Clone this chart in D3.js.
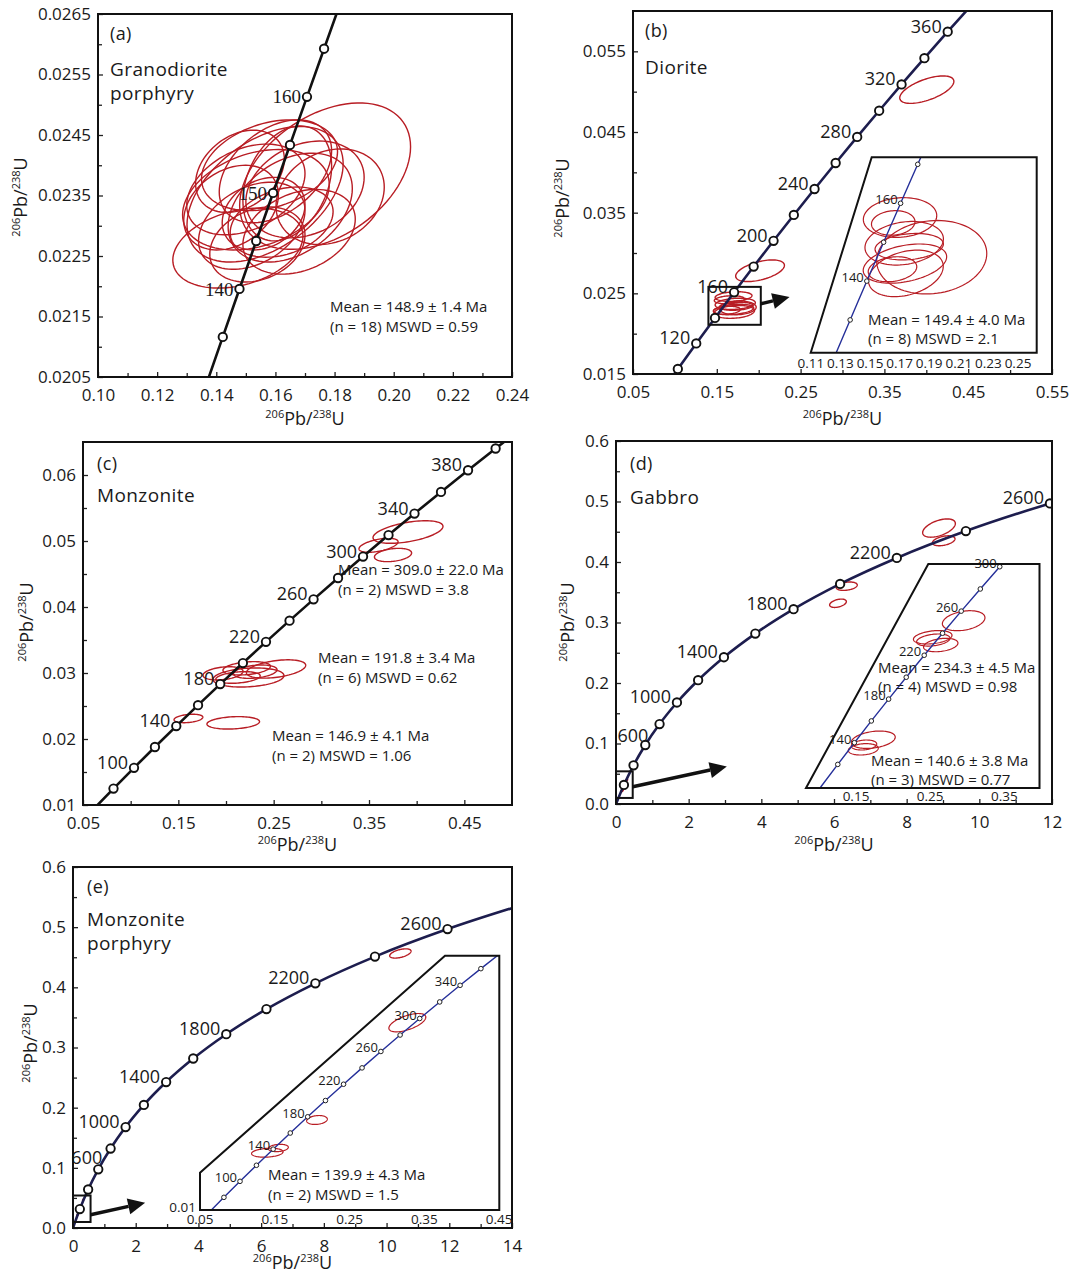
<!DOCTYPE html>
<html>
<head>
<meta charset="utf-8">
<script src="https://cdnjs.cloudflare.com/ajax/libs/d3/7.8.5/d3.min.js"></script>
<style>
  body { margin: 0; background: #fff; }
  svg text { font-family: "Open Sans", "Noto Sans", sans-serif; fill: #1a1a1a; }
</style>
</head>
<body>
<svg id="fig" width="1071" height="1275"></svg>
<script>
// ---------- values ----------
// concordia points: age (Ma), x ratio, 206Pb/238U
var fineAges = [120, 130, 135, 140, 145, 150, 155, 160, 165, 170, 180];
var fineX = [0.12545, 0.13659, 0.14220, 0.14784, 0.15350, 0.15920, 0.16492, 0.17067, 0.17645, 0.18226, 0.19396];
var fineY = [0.018789, 0.020371, 0.021163, 0.021955, 0.022748, 0.023542, 0.024335, 0.025131, 0.025926, 0.026722, 0.028316];

var midAges = [60, 80, 100, 120, 140, 160, 180, 200, 220, 240, 260, 280, 300, 320, 340, 360, 380, 400, 420];
var midX = [0.06087, 0.08198, 0.10350, 0.12545, 0.14784, 0.17067, 0.19396, 0.21771, 0.24193, 0.26664, 0.29183, 0.31753, 0.34374, 0.37047, 0.39773, 0.42553, 0.45389, 0.48281, 0.51231];
var midY = [0.009351, 0.012487, 0.015633, 0.018789, 0.021955, 0.025131, 0.028316, 0.031511, 0.034717, 0.037932, 0.041157, 0.044392, 0.047637, 0.050893, 0.054158, 0.057434, 0.060719, 0.064016, 0.067322];

var longAges = [0, 200, 400, 600, 800, 1000, 1200, 1400, 1600, 1800, 2000, 2200, 2400, 2600, 2800];
var longX = [0, 0.2177, 0.4828, 0.8057, 1.1987, 1.6774, 2.2603, 2.9701, 3.8344, 4.8869, 6.1685, 7.7291, 9.6295, 11.9437, 14.7617];
var longY = [0, 0.0315, 0.0640, 0.0975, 0.1321, 0.1678, 0.2046, 0.2426, 0.2817, 0.3221, 0.3638, 0.4067, 0.4511, 0.4968, 0.5440];

// marked / labelled ages
var aMarks = [135, 140, 145, 150, 155, 160, 165];
var aLabels = [140, 150, 160];
var bMarks = [100, 120, 140, 160, 180, 200, 220, 240, 260, 280, 300, 320, 340, 360];
var bLabels = [120, 160, 200, 240, 280, 320, 360];
var bInMarks = [130, 140, 150, 160, 170];
var bInLabels = [140, 160];
var cMarks = [80, 100, 120, 140, 160, 180, 200, 220, 240, 260, 280, 300, 320, 340, 360, 380, 400];
var cLabels = [100, 140, 180, 220, 260, 300, 340, 380];
var dMarks = [200, 400, 600, 800, 1000, 1200, 1400, 1600, 1800, 2000, 2200, 2400, 2600];
var dLabels = [600, 1000, 1400, 1800, 2200, 2600];
var dInMarks = [120, 140, 160, 180, 200, 220, 240, 260, 280, 300];
var dInLabels = [140, 180, 220, 260, 300];
var eMarks = [200, 400, 600, 800, 1000, 1200, 1400, 1600, 1800, 2000, 2200, 2400, 2600];
var eLabels = [600, 1000, 1400, 1800, 2200, 2600];
var eInMarks = [80, 100, 120, 140, 160, 180, 200, 220, 240, 260, 280, 300, 320, 340, 360];
var eInLabels = [100, 140, 180, 220, 260, 300, 340];

// error ellipses: [x, y, half width x, half width y, rho]
var aEllipses = [
  [0.1768, 0.02382, 0.0289, 0.00121, 0.40],
  [0.1785, 0.02348, 0.0183, 0.00079, 0.20],
  [0.1565, 0.02352, 0.0264, 0.00112, 0.45],
  [0.1534, 0.02343, 0.0248, 0.00083, 0.30],
  [0.1473, 0.02263, 0.0220, 0.00066, 0.30],
  [0.1539, 0.02269, 0.0161, 0.00062, 0.25],
  [0.1621, 0.02306, 0.0174, 0.00058, 0.30],
  [0.1500, 0.02360, 0.0200, 0.00075, 0.35],
  [0.1600, 0.02390, 0.0190, 0.00085, 0.40],
  [0.1650, 0.02330, 0.0210, 0.00090, 0.35],
  [0.1450, 0.02330, 0.0160, 0.00070, 0.30],
  [0.1580, 0.02400, 0.0230, 0.00075, 0.30],
  [0.1700, 0.02360, 0.0200, 0.00080, 0.25],
  [0.1520, 0.02300, 0.0180, 0.00072, 0.35],
  [0.1640, 0.02370, 0.0150, 0.00095, 0.30],
  [0.1480, 0.02390, 0.0150, 0.00068, 0.30],
  [0.1680, 0.02290, 0.0190, 0.00070, 0.30],
  [0.1560, 0.02320, 0.0140, 0.00060, 0.25]
];
var bEllipses = [
  [0.4006, 0.05025, 0.0323, 0.00170, 0.60],
  [0.2016, 0.02780, 0.0291, 0.00134, 0.50],
  [0.1700, 0.02460, 0.0220, 0.00060, 0.20],
  [0.1650, 0.02420, 0.0180, 0.00050, 0.20],
  [0.1720, 0.02370, 0.0240, 0.00070, 0.20],
  [0.1750, 0.02320, 0.0220, 0.00085, 0.10],
  [0.1700, 0.02300, 0.0240, 0.00065, 0.30],
  [0.1710, 0.02270, 0.0240, 0.00080, 0.20],
  [0.1730, 0.02340, 0.0200, 0.00050, 0.20],
  [0.1620, 0.02290, 0.0160, 0.00050, 0.20]
];
var bInEllipses = [
  [0.1703, 0.02455, 0.0248, 0.00081, 0.10],
  [0.1657, 0.02433, 0.0147, 0.00050, 0.10],
  [0.1731, 0.02350, 0.0265, 0.00089, 0.20],
  [0.1917, 0.02293, 0.0372, 0.00150, 0.10],
  [0.1736, 0.02267, 0.0282, 0.00080, 0.35],
  [0.1742, 0.02227, 0.0253, 0.00095, 0.30],
  [0.1765, 0.02336, 0.0231, 0.00054, 0.20],
  [0.1652, 0.02244, 0.0164, 0.00051, 0.20]
];
var cEllipses = [
  [0.3909, 0.05136, 0.0367, 0.00171, 0.50],
  [0.3600, 0.04935, 0.0205, 0.00106, 0.50],
  [0.3752, 0.04788, 0.0195, 0.00101, 0.30],
  [0.2525, 0.03061, 0.0311, 0.00139, 0.40],
  [0.1969, 0.02995, 0.0210, 0.00100, 0.30],
  [0.2236, 0.02932, 0.0372, 0.00144, 0.20],
  [0.2217, 0.03071, 0.0249, 0.00101, 0.30],
  [0.2307, 0.03020, 0.0228, 0.00101, 0.30],
  [0.2126, 0.02932, 0.0233, 0.00088, 0.30],
  [0.1606, 0.02311, 0.0151, 0.00064, 0.30],
  [0.2076, 0.02245, 0.0276, 0.00094, 0.20]
];
var dEllipses = [
  [6.35, 0.3600, 0.29, 0.0069, 0.30],
  [6.11, 0.3318, 0.23, 0.0069, 0.40],
  [8.89, 0.4561, 0.45, 0.0151, 0.50],
  [9.02, 0.4351, 0.31, 0.0082, 0.40]
];
var dInEllipses = [
  [0.2951, 0.03976, 0.0287, 0.00146, 0.30],
  [0.2534, 0.03734, 0.0260, 0.00098, 0.30],
  [0.2542, 0.03694, 0.0225, 0.00088, 0.30],
  [0.2642, 0.03621, 0.0232, 0.00098, 0.30],
  [0.1733, 0.02239, 0.0296, 0.00127, 0.30],
  [0.1608, 0.02162, 0.0171, 0.00073, 0.20],
  [0.1598, 0.02099, 0.0202, 0.00083, 0.20]
];
var eEllipses = [
  [10.44, 0.4563, 0.34, 0.0077, 0.50]
];
var eInEllipses = [
  [0.1400, 0.02126, 0.0211, 0.00088, 0.20],
  [0.1547, 0.02219, 0.0134, 0.00072, 0.20],
  [0.2064, 0.02769, 0.0138, 0.00088, 0.20],
  [0.3272, 0.04682, 0.0247, 0.00180, 0.60]
];

// tick labels
var aXTicks = ["0.10", "0.12", "0.14", "0.16", "0.18", "0.20", "0.22", "0.24"];
var aXMinor = [0.11, 0.13, 0.15, 0.17, 0.19, 0.21, 0.23];
var aYTicks = ["0.0205", "0.0215", "0.0225", "0.0235", "0.0245", "0.0255", "0.0265"];
var aYMinor = [0.021, 0.022, 0.023, 0.024, 0.025, 0.026];
var bXTicks = ["0.05", "0.15", "0.25", "0.35", "0.45", "0.55"];
var bXMinor = [0.10, 0.20, 0.30, 0.40, 0.50];
var bYTicks = ["0.015", "0.025", "0.035", "0.045", "0.055"];
var bYMinor = [0.020, 0.030, 0.040, 0.050];
var bInXTicks = ["0.11", "0.13", "0.15", "0.17", "0.19", "0.21", "0.23", "0.25"];
var cXTicks = ["0.05", "0.15", "0.25", "0.35", "0.45"];
var cXMinor = [0.10, 0.20, 0.30, 0.40];
var cYTicks = ["0.01", "0.02", "0.03", "0.04", "0.05", "0.06"];
var cYMinor = [0.015, 0.025, 0.035, 0.045, 0.055];
var dXTicks = ["0", "2", "4", "6", "8", "10", "12"];
var dXMinor = [1, 3, 5, 7, 9, 11];
var dYTicks = ["0.0", "0.1", "0.2", "0.3", "0.4", "0.5", "0.6"];
var dYMinor = [0.05, 0.15, 0.25, 0.35, 0.45, 0.55];
var dInXTicks = ["0.15", "0.25", "0.35"];
var eXTicks = ["0", "2", "4", "6", "8", "10", "12", "14"];
var eXMinor = [1, 3, 5, 7, 9, 11, 13];
var eYTicks = ["0.0", "0.1", "0.2", "0.3", "0.4", "0.5", "0.6"];
var eYMinor = [0.05, 0.15, 0.25, 0.35, 0.45, 0.55];
var eInXTicks = ["0.05", "0.15", "0.25", "0.35", "0.45"];

// ---------- drawing ----------
var svg = d3.select("#fig");
var defs = svg.append("defs");
var RED = "#b81d24";
var NAVY = "#1d1d4e";
var SERIF = '"Liberation Serif", "Times New Roman", serif';

function pick(ages, xs, ys, lo, hi) {
  var out = [];
  ages.forEach(function(a, i) {
    if (a >= lo && a <= hi) out.push({age: a, x: xs[i], y: ys[i]});
  });
  return out;
}

function ellipsePath(e, x, y) {
  var s = Math.sqrt(1 - e[4] * e[4]);
  var pts = d3.range(90).map(function(k) {
    var t = k / 90 * 2 * Math.PI;
    return [x(e[0] + e[2] * Math.cos(t)),
            y(e[1] + e[3] * (e[4] * Math.cos(t) + s * Math.sin(t)))];
  });
  return d3.line().curve(d3.curveLinearClosed)(pts);
}

function ratioTitle(t) {
  t.append("tspan").attr("font-size", 11).attr("dy", -7).text("206");
  t.append("tspan").attr("dy", 7).text("Pb/");
  t.append("tspan").attr("font-size", 11).attr("dy", -7).text("238");
  t.append("tspan").attr("dy", 7).text("U");
}

function arrow(g, x1, y1, x2, y2) {
  var ang = Math.atan2(y2 - y1, x2 - x1), len = 17, hw = 8;
  var bx = x2 - len * Math.cos(ang), by = y2 - len * Math.sin(ang);
  g.append("line").attr("x1", x1).attr("y1", y1).attr("x2", bx).attr("y2", by)
    .attr("stroke", "#111").attr("stroke-width", 3.5);
  g.append("polygon")
    .attr("points", [[x2, y2],
      [bx + hw * Math.sin(ang), by - hw * Math.cos(ang)],
      [bx - hw * Math.sin(ang), by + hw * Math.cos(ang)]].map(function(p) { return p.join(","); }).join(" "))
    .attr("fill", "#111");
}

function drawPanel(p) {
  var x = d3.scaleLinear().domain(p.xDomain).range([p.L, p.R]);
  var y = d3.scaleLinear().domain(p.yDomain).range([p.B, p.T]);
  var g = svg.append("g");

  defs.append("clipPath").attr("id", "clip-" + p.id)
    .append("rect").attr("x", p.L).attr("y", p.T).attr("width", p.R - p.L).attr("height", p.B - p.T);

  g.append("g").attr("transform", "translate(0," + p.B + ")")
    .call(d3.axisBottom(x).tickValues(p.xMinor).tickSize(-4).tickFormat(""));
  g.append("g").attr("transform", "translate(0," + p.B + ")")
    .call(d3.axisBottom(x).tickValues(p.xTicks.map(Number)).tickSize(-5).tickPadding(12)
      .tickFormat(function(d, i) { return p.xTicks[i]; }));
  g.append("g").attr("transform", "translate(" + p.L + ",0)")
    .call(d3.axisLeft(y).tickValues(p.yMinor).tickSize(-4).tickFormat(""));
  g.append("g").attr("transform", "translate(" + p.L + ",0)")
    .call(d3.axisLeft(y).tickValues(p.yTicks.map(Number)).tickSize(-5).tickPadding(7)
      .tickFormat(function(d, i) { return p.yTicks[i]; }));
  g.selectAll(".domain").remove();
  g.selectAll(".tick line").attr("stroke", "#222").attr("stroke-width", 1.3);
  g.selectAll(".tick text").style("font-size", "17px").attr("fill", "#1a1a1a");

  var plot = g.append("g").attr("clip-path", "url(#clip-" + p.id + ")");

  plot.selectAll("path.ell").data(p.ellipses).join("path").attr("class", "ell")
    .attr("d", function(e) { return ellipsePath(e, x, y); })
    .attr("fill", "none").attr("stroke", RED).attr("stroke-width", 1.4);

  if (p.smallEllipses) {
    plot.selectAll("path.sm").data(p.smallEllipses).join("path").attr("class", "sm")
      .attr("d", function(e) { return ellipsePath(e, x, y); })
      .attr("fill", "none").attr("stroke", RED).attr("stroke-width", 1.2);
  }

  plot.append("path").datum(p.curve)
    .attr("d", d3.line().curve(d3.curveMonotoneX).x(function(d) { return x(d.x); }).y(function(d) { return y(d.y); }))
    .attr("fill", "none").attr("stroke", p.lineColor).attr("stroke-width", 2.6);

  plot.selectAll("circle").data(p.curve.filter(function(d) { return p.marks.indexOf(d.age) >= 0; }))
    .join("circle")
    .attr("cx", function(d) { return x(d.x); }).attr("cy", function(d) { return y(d.y); })
    .attr("r", 4.2).attr("fill", "#fff").attr("stroke", "#111").attr("stroke-width", 1.9);

  var shift = p.labelShift || {};
  g.selectAll("text.age").data(p.curve.filter(function(d) { return p.labels.indexOf(d.age) >= 0; }))
    .join("text").attr("class", "age")
    .attr("x", function(d) { return x(d.x) + p.labelDx + (shift[d.age] ? shift[d.age][0] : 0); })
    .attr("y", function(d) { return y(d.y) + (shift[d.age] ? shift[d.age][1] : 0); })
    .attr("dy", p.labelDy)
    .attr("text-anchor", "end").attr("font-size", p.labelSize)
    .style("font-family", p.labelFont || null)
    .text(function(d) { return d.age; });

  g.append("rect").attr("x", p.L).attr("y", p.T).attr("width", p.R - p.L).attr("height", p.B - p.T)
    .attr("fill", "none").attr("stroke", "#111").attr("stroke-width", 2);

  if (p.box) {
    g.append("rect").attr("x", x(p.box[0])).attr("y", y(p.box[3]))
      .attr("width", x(p.box[1]) - x(p.box[0])).attr("height", y(p.box[2]) - y(p.box[3]))
      .attr("fill", "none").attr("stroke", "#111").attr("stroke-width", 2);
  }
  if (p.arrow) {
    arrow(g, x(p.arrow[0][0]), y(p.arrow[0][1]), x(p.arrow[1][0]), y(p.arrow[1][1]));
  }

  g.append("text").attr("x", (p.L + p.R) / 2).attr("y", p.xTitleY)
    .attr("text-anchor", "middle").attr("font-size", 18).call(ratioTitle);
  g.append("text").attr("transform", "translate(" + p.yTitleX + "," + p.yTitleY + ") rotate(-90)")
    .attr("text-anchor", "middle").attr("font-size", 18).call(ratioTitle);

  p.texts.forEach(function(t) {
    g.append("text").attr("x", t[0]).attr("y", t[1]).attr("font-size", t[2])
      .style("letter-spacing", t[2] > 16 ? "0.4px" : null).text(t[3]);
  });
  return g;
}

function drawInset(o) {
  var x = d3.scaleLinear().domain(o.xDomain).range(o.xRange);
  var y = d3.scaleLinear().domain(o.yDomain).range(o.yRange);
  var g = svg.append("g");
  var poly = o.frame.map(function(p) { return p.join(","); }).join(" ");
  defs.append("clipPath").attr("id", "clip-" + o.id).append("polygon").attr("points", poly);
  g.append("polygon").attr("points", poly).attr("fill", "#fff");

  var inner = g.append("g").attr("clip-path", "url(#clip-" + o.id + ")");
  inner.selectAll("path.ell").data(o.ellipses).join("path").attr("class", "ell")
    .attr("d", function(e) { return ellipsePath(e, x, y); })
    .attr("fill", "none").attr("stroke", RED).attr("stroke-width", 1.2);
  inner.append("path").datum(o.curve)
    .attr("d", d3.line().curve(d3.curveMonotoneX).x(function(d) { return x(d.x); }).y(function(d) { return y(d.y); }))
    .attr("fill", "none").attr("stroke", "#26309a").attr("stroke-width", 1.4);
  inner.selectAll("circle").data(o.curve.filter(function(d) { return o.marks.indexOf(d.age) >= 0; }))
    .join("circle")
    .attr("cx", function(d) { return x(d.x); }).attr("cy", function(d) { return y(d.y); })
    .attr("r", 2.3).attr("fill", "#fff").attr("stroke", "#222").attr("stroke-width", 1);

  g.selectAll("text.age").data(o.curve.filter(function(d) { return o.labels.indexOf(d.age) >= 0; }))
    .join("text").attr("class", "age")
    .attr("x", function(d) { return x(d.x) - 3; })
    .attr("y", function(d) { return y(d.y) + 1; })
    .attr("text-anchor", "end").attr("font-size", 13)
    .text(function(d) { return d.age; });

  g.append("polygon").attr("points", poly).attr("fill", "none").attr("stroke", "#111").attr("stroke-width", 2);

  g.selectAll("text.itick").data(o.xTicks).join("text").attr("class", "itick")
    .attr("x", function(d) { return x(+d); }).attr("y", o.tickY)
    .attr("text-anchor", "middle").attr("font-size", 13.5).text(function(d) { return d; });
  if (o.yLabel) {
    g.append("text").attr("x", o.frame[0][0] - 4).attr("y", y(+o.yLabel) + 2)
      .attr("text-anchor", "end").attr("font-size", 13.5).text(o.yLabel);
  }
  o.texts.forEach(function(t) {
    g.append("text").attr("x", t[0]).attr("y", t[1]).attr("font-size", t[2]).text(t[3]);
  });
}

// (a)
drawPanel({
  id: "a", L: 98, R: 512, T: 14, B: 377, xDomain: [0.10, 0.24], yDomain: [0.0205, 0.0265],
  xTicks: aXTicks, xMinor: aXMinor, yTicks: aYTicks, yMinor: aYMinor,
  curve: pick(fineAges, fineX, fineY, 130, 170), marks: aMarks, labels: aLabels,
  ellipses: aEllipses, lineColor: "#111",
  labelFont: SERIF, labelSize: 19, labelDx: -6, labelDy: "0.35em",
  xTitleY: 425, yTitleX: 27, yTitleY: 197,
  texts: [[110, 40, 18, "(a)"], [110, 76, 19, "Granodiorite"], [110, 100, 19, "porphyry"],
          [330, 312, 15, "Mean = 148.9 \u00b1 1.4 Ma"], [330, 332, 15, "(n = 18) MSWD = 0.59"]]
});

// (b)
drawPanel({
  id: "b", L: 633, R: 1052, T: 11, B: 374, xDomain: [0.05, 0.55], yDomain: [0.015, 0.060],
  xTicks: bXTicks, xMinor: bXMinor, yTicks: bYTicks, yMinor: bYMinor,
  curve: pick(midAges, midX, midY, 80, 380), marks: bMarks, labels: bLabels,
  ellipses: bEllipses, lineColor: NAVY,
  labelSize: 18, labelDx: -6, labelDy: 1,
  box: [0.140, 0.2025, 0.0211, 0.0258], arrow: [[0.2025, 0.0237], [0.2368, 0.02455]],
  xTitleY: 425, yTitleX: 569, yTitleY: 198,
  texts: [[645, 37, 18, "(b)"], [645, 74, 19, "Diorite"]]
});
drawInset({
  id: "bi", xDomain: [0.11, 0.25], xRange: [810.8, 1018], yDomain: [0.019, 0.027], yRange: [353.5, 157.5],
  frame: [[810.7, 352.7], [871.7, 157.3], [1036.7, 157.3], [1036.7, 352.7]],
  curve: pick(fineAges, fineX, fineY, 120, 180), marks: bInMarks, labels: bInLabels,
  ellipses: bInEllipses, xTicks: bInXTicks, tickY: 368,
  texts: [[868, 325, 15, "Mean = 149.4 \u00b1 4.0 Ma"], [868, 344, 15, "(n = 8) MSWD = 2.1"]]
});

// (c)
drawPanel({
  id: "c", L: 83, R: 512, T: 442, B: 805, xDomain: [0.05, 0.50], yDomain: [0.01, 0.065],
  xTicks: cXTicks, xMinor: cXMinor, yTicks: cYTicks, yMinor: cYMinor,
  curve: pick(midAges, midX, midY, 60, 420), marks: cMarks, labels: cLabels,
  ellipses: cEllipses, lineColor: "#111",
  labelSize: 18, labelDx: -6, labelDy: 1,
  xTitleY: 851, yTitleX: 33, yTitleY: 622,
  texts: [[97, 470, 18, "(c)"], [97, 502, 19, "Monzonite"],
          [338, 575, 15, "Mean = 309.0 \u00b1 22.0 Ma"], [338, 595, 15, "(n = 2) MSWD = 3.8"],
          [318, 663, 15, "Mean = 191.8 \u00b1 3.4 Ma"], [318, 683, 15, "(n = 6) MSWD = 0.62"],
          [272, 741, 15, "Mean = 146.9 \u00b1 4.1 Ma"], [272, 761, 15, "(n = 2) MSWD = 1.06"]]
});

// (d)
drawPanel({
  id: "d", L: 616, R: 1052, T: 441, B: 804, xDomain: [0, 12], yDomain: [0, 0.6],
  xTicks: dXTicks, xMinor: dXMinor, yTicks: dYTicks, yMinor: dYMinor,
  curve: pick(longAges, longX, longY, 0, 2800), marks: dMarks, labels: dLabels,
  ellipses: dEllipses, smallEllipses: dInEllipses, lineColor: NAVY,
  labelSize: 18, labelDx: -6, labelDy: 1, labelShift: {600: [9, -4]},
  box: [0, 0.46, 0.01, 0.054], arrow: [[0.46, 0.0285], [3.05, 0.062]],
  xTitleY: 851, yTitleX: 574, yTitleY: 622,
  texts: [[630, 470, 18, "(d)"], [630, 504, 19, "Gabbro"]]
});
drawInset({
  id: "di", xDomain: [0.15, 0.35], xRange: [856, 1004.4], yDomain: [0.02, 0.045], yRange: [756.1, 584.8],
  frame: [[806, 788], [928.3, 564], [1039.5, 564], [1039.5, 788]],
  curve: pick(midAges, midX, midY, 80, 340), marks: dInMarks, labels: dInLabels,
  ellipses: dInEllipses, xTicks: dInXTicks, tickY: 801,
  texts: [[878, 673, 15, "Mean = 234.3 \u00b1 4.5 Ma"], [878, 692, 15, "(n = 4) MSWD = 0.98"],
          [871, 766, 15, "Mean = 140.6 \u00b1 3.8 Ma"], [871, 785, 15, "(n = 3) MSWD = 0.77"]]
});

// (e)
drawPanel({
  id: "e", L: 73, R: 512, T: 867, B: 1228, xDomain: [0, 14], yDomain: [0, 0.6],
  xTicks: eXTicks, xMinor: eXMinor, yTicks: eYTicks, yMinor: eYMinor,
  curve: pick(longAges, longX, longY, 0, 2800), marks: eMarks, labels: eLabels,
  ellipses: eEllipses, smallEllipses: eInEllipses, lineColor: NAVY,
  labelSize: 18, labelDx: -6, labelDy: 1, labelShift: {600: [10, -6]},
  box: [0, 0.56, 0.01, 0.054], arrow: [[0.56, 0.022], [2.3, 0.042]],
  xTitleY: 1269, yTitleX: 37, yTitleY: 1043,
  texts: [[87, 893, 18, "(e)"], [87, 926, 19, "Monzonite"], [87, 950, 19, "porphyry"]]
});
drawInset({
  id: "ei", xDomain: [0.05, 0.45], xRange: [200, 499.2], yDomain: [0.01, 0.06], yRange: [1210, 955.6],
  frame: [[200, 1210], [200, 1172.7], [445, 955.7], [499.3, 955.7], [499.3, 1210]],
  curve: pick(midAges, midX, midY, 60, 380), marks: eInMarks, labels: eInLabels,
  ellipses: eInEllipses, xTicks: eInXTicks, tickY: 1224, yLabel: "0.01",
  texts: [[268, 1180, 15, "Mean = 139.9 \u00b1 4.3 Ma"], [268, 1200, 15, "(n = 2) MSWD = 1.5"]]
});
</script>
</body>
</html>
